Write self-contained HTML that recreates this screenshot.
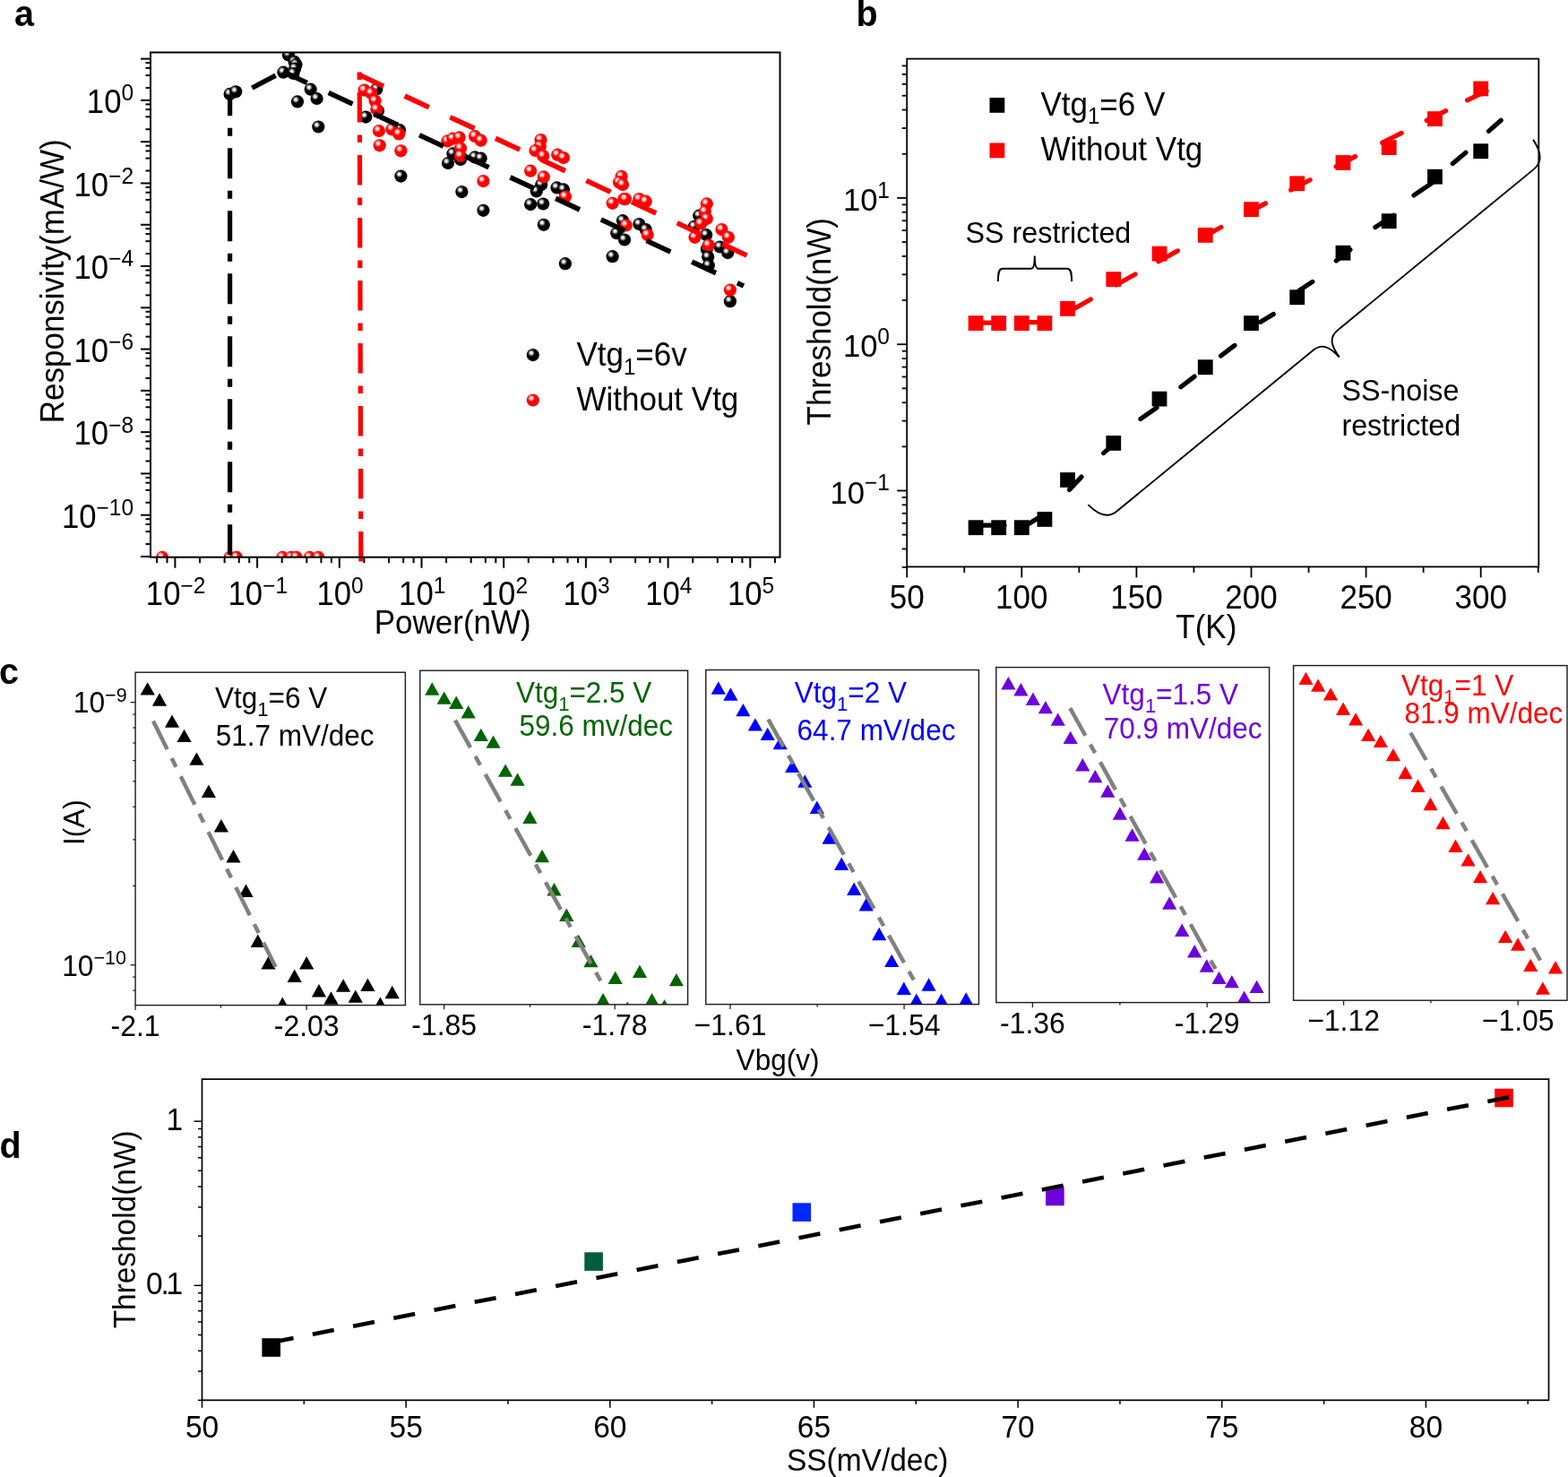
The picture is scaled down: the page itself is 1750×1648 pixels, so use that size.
<!DOCTYPE html>
<html><head><meta charset="utf-8"><title>Figure</title>
<style>html,body{margin:0;padding:0;background:#fff;}svg{display:block;}text{font-family:"Liberation Sans",Arial,Helvetica,sans-serif;}</style>
</head><body>
<svg width="1750" height="1648" viewBox="0 0 1750 1648">
<defs>
<radialGradient id="gb" cx="0.37" cy="0.34" r="0.62" fx="0.37" fy="0.34"><stop offset="0" stop-color="#fff"/><stop offset="0.12" stop-color="#f4f4f4"/><stop offset="0.45" stop-color="#000"/><stop offset="1" stop-color="#000"/></radialGradient>
<radialGradient id="gr" cx="0.37" cy="0.34" r="0.62" fx="0.37" fy="0.34"><stop offset="0" stop-color="#fff"/><stop offset="0.12" stop-color="#fff0f0"/><stop offset="0.45" stop-color="#f00"/><stop offset="1" stop-color="#f00"/></radialGradient>
<clipPath id="clipA"><rect x="168" y="58.5" width="702.5" height="563"/></clipPath>
<clipPath id="clipAb"><rect x="168" y="40" width="702.5" height="581.5"/></clipPath>
</defs>
<rect x="0" y="0" width="1750" height="1648" fill="#fff"/>
<text transform="translate(16,28.9) scale(1,1.04)" font-size="39.5" font-weight="bold">a</text>
<line x1="157" y1="620.98" x2="168" y2="620.98" stroke="#000" stroke-width="2"/>
<line x1="162.5" y1="607.05" x2="168" y2="607.05" stroke="#000" stroke-width="2"/>
<line x1="162.5" y1="593.12" x2="168" y2="593.12" stroke="#000" stroke-width="2"/>
<line x1="162.5" y1="584.97" x2="168" y2="584.97" stroke="#000" stroke-width="2"/>
<line x1="162.5" y1="579.18" x2="168" y2="579.18" stroke="#000" stroke-width="2"/>
<line x1="157" y1="574.7" x2="168" y2="574.7" stroke="#000" stroke-width="2"/>
<line x1="162.5" y1="560.77" x2="168" y2="560.77" stroke="#000" stroke-width="2"/>
<line x1="162.5" y1="546.84" x2="168" y2="546.84" stroke="#000" stroke-width="2"/>
<line x1="162.5" y1="538.69" x2="168" y2="538.69" stroke="#000" stroke-width="2"/>
<line x1="162.5" y1="532.9" x2="168" y2="532.9" stroke="#000" stroke-width="2"/>
<line x1="157" y1="528.42" x2="168" y2="528.42" stroke="#000" stroke-width="2"/>
<line x1="162.5" y1="514.49" x2="168" y2="514.49" stroke="#000" stroke-width="2"/>
<line x1="162.5" y1="500.56" x2="168" y2="500.56" stroke="#000" stroke-width="2"/>
<line x1="162.5" y1="492.41" x2="168" y2="492.41" stroke="#000" stroke-width="2"/>
<line x1="162.5" y1="486.62" x2="168" y2="486.62" stroke="#000" stroke-width="2"/>
<line x1="157" y1="482.14" x2="168" y2="482.14" stroke="#000" stroke-width="2"/>
<line x1="162.5" y1="468.21" x2="168" y2="468.21" stroke="#000" stroke-width="2"/>
<line x1="162.5" y1="454.28" x2="168" y2="454.28" stroke="#000" stroke-width="2"/>
<line x1="162.5" y1="446.13" x2="168" y2="446.13" stroke="#000" stroke-width="2"/>
<line x1="162.5" y1="440.34" x2="168" y2="440.34" stroke="#000" stroke-width="2"/>
<line x1="157" y1="435.86" x2="168" y2="435.86" stroke="#000" stroke-width="2"/>
<line x1="162.5" y1="421.93" x2="168" y2="421.93" stroke="#000" stroke-width="2"/>
<line x1="162.5" y1="408" x2="168" y2="408" stroke="#000" stroke-width="2"/>
<line x1="162.5" y1="399.85" x2="168" y2="399.85" stroke="#000" stroke-width="2"/>
<line x1="162.5" y1="394.06" x2="168" y2="394.06" stroke="#000" stroke-width="2"/>
<line x1="157" y1="389.58" x2="168" y2="389.58" stroke="#000" stroke-width="2"/>
<line x1="162.5" y1="375.65" x2="168" y2="375.65" stroke="#000" stroke-width="2"/>
<line x1="162.5" y1="361.72" x2="168" y2="361.72" stroke="#000" stroke-width="2"/>
<line x1="162.5" y1="353.57" x2="168" y2="353.57" stroke="#000" stroke-width="2"/>
<line x1="162.5" y1="347.78" x2="168" y2="347.78" stroke="#000" stroke-width="2"/>
<line x1="157" y1="343.3" x2="168" y2="343.3" stroke="#000" stroke-width="2"/>
<line x1="162.5" y1="329.37" x2="168" y2="329.37" stroke="#000" stroke-width="2"/>
<line x1="162.5" y1="315.44" x2="168" y2="315.44" stroke="#000" stroke-width="2"/>
<line x1="162.5" y1="307.29" x2="168" y2="307.29" stroke="#000" stroke-width="2"/>
<line x1="162.5" y1="301.5" x2="168" y2="301.5" stroke="#000" stroke-width="2"/>
<line x1="157" y1="297.02" x2="168" y2="297.02" stroke="#000" stroke-width="2"/>
<line x1="162.5" y1="283.09" x2="168" y2="283.09" stroke="#000" stroke-width="2"/>
<line x1="162.5" y1="269.16" x2="168" y2="269.16" stroke="#000" stroke-width="2"/>
<line x1="162.5" y1="261.01" x2="168" y2="261.01" stroke="#000" stroke-width="2"/>
<line x1="162.5" y1="255.22" x2="168" y2="255.22" stroke="#000" stroke-width="2"/>
<line x1="157" y1="250.74" x2="168" y2="250.74" stroke="#000" stroke-width="2"/>
<line x1="162.5" y1="236.81" x2="168" y2="236.81" stroke="#000" stroke-width="2"/>
<line x1="162.5" y1="222.88" x2="168" y2="222.88" stroke="#000" stroke-width="2"/>
<line x1="162.5" y1="214.73" x2="168" y2="214.73" stroke="#000" stroke-width="2"/>
<line x1="162.5" y1="208.94" x2="168" y2="208.94" stroke="#000" stroke-width="2"/>
<line x1="157" y1="204.46" x2="168" y2="204.46" stroke="#000" stroke-width="2"/>
<line x1="162.5" y1="190.53" x2="168" y2="190.53" stroke="#000" stroke-width="2"/>
<line x1="162.5" y1="176.6" x2="168" y2="176.6" stroke="#000" stroke-width="2"/>
<line x1="162.5" y1="168.45" x2="168" y2="168.45" stroke="#000" stroke-width="2"/>
<line x1="162.5" y1="162.66" x2="168" y2="162.66" stroke="#000" stroke-width="2"/>
<line x1="157" y1="158.18" x2="168" y2="158.18" stroke="#000" stroke-width="2"/>
<line x1="162.5" y1="144.25" x2="168" y2="144.25" stroke="#000" stroke-width="2"/>
<line x1="162.5" y1="130.32" x2="168" y2="130.32" stroke="#000" stroke-width="2"/>
<line x1="162.5" y1="122.17" x2="168" y2="122.17" stroke="#000" stroke-width="2"/>
<line x1="162.5" y1="116.38" x2="168" y2="116.38" stroke="#000" stroke-width="2"/>
<line x1="157" y1="111.9" x2="168" y2="111.9" stroke="#000" stroke-width="2"/>
<line x1="162.5" y1="97.97" x2="168" y2="97.97" stroke="#000" stroke-width="2"/>
<line x1="162.5" y1="84.04" x2="168" y2="84.04" stroke="#000" stroke-width="2"/>
<line x1="162.5" y1="75.89" x2="168" y2="75.89" stroke="#000" stroke-width="2"/>
<line x1="162.5" y1="70.1" x2="168" y2="70.1" stroke="#000" stroke-width="2"/>
<line x1="157" y1="65.62" x2="168" y2="65.62" stroke="#000" stroke-width="2"/>
<text transform="translate(149.1,126.1) scale(1,1.04)" font-size="34.7" text-anchor="end">10<tspan font-size="24.5" dy="-13.3">0</tspan></text>
<text transform="translate(149.1,218.66) scale(1,1.04)" font-size="34.7" text-anchor="end">10<tspan font-size="24.5" dy="-13.3">−2</tspan></text>
<text transform="translate(149.1,311.22) scale(1,1.04)" font-size="34.7" text-anchor="end">10<tspan font-size="24.5" dy="-13.3">−4</tspan></text>
<text transform="translate(149.1,403.78) scale(1,1.04)" font-size="34.7" text-anchor="end">10<tspan font-size="24.5" dy="-13.3">−6</tspan></text>
<text transform="translate(149.1,496.34) scale(1,1.04)" font-size="34.7" text-anchor="end">10<tspan font-size="24.5" dy="-13.3">−8</tspan></text>
<text transform="translate(149.1,588.9) scale(1,1.04)" font-size="34.7" text-anchor="end">10<tspan font-size="24.5" dy="-13.3">−10</tspan></text>
<line x1="175.06" y1="621.7" x2="175.06" y2="628.2" stroke="#000" stroke-width="2"/>
<line x1="186.51" y1="621.7" x2="186.51" y2="628.2" stroke="#000" stroke-width="2"/>
<line x1="195.4" y1="621.7" x2="195.4" y2="633.7" stroke="#000" stroke-width="2"/>
<line x1="223" y1="621.7" x2="223" y2="628.2" stroke="#000" stroke-width="2"/>
<line x1="250.61" y1="621.7" x2="250.61" y2="628.2" stroke="#000" stroke-width="2"/>
<line x1="266.76" y1="621.7" x2="266.76" y2="628.2" stroke="#000" stroke-width="2"/>
<line x1="278.21" y1="621.7" x2="278.21" y2="628.2" stroke="#000" stroke-width="2"/>
<line x1="287.1" y1="621.7" x2="287.1" y2="633.7" stroke="#000" stroke-width="2"/>
<line x1="314.7" y1="621.7" x2="314.7" y2="628.2" stroke="#000" stroke-width="2"/>
<line x1="342.31" y1="621.7" x2="342.31" y2="628.2" stroke="#000" stroke-width="2"/>
<line x1="358.46" y1="621.7" x2="358.46" y2="628.2" stroke="#000" stroke-width="2"/>
<line x1="369.91" y1="621.7" x2="369.91" y2="628.2" stroke="#000" stroke-width="2"/>
<line x1="378.8" y1="621.7" x2="378.8" y2="633.7" stroke="#000" stroke-width="2"/>
<line x1="406.4" y1="621.7" x2="406.4" y2="628.2" stroke="#000" stroke-width="2"/>
<line x1="434.01" y1="621.7" x2="434.01" y2="628.2" stroke="#000" stroke-width="2"/>
<line x1="450.16" y1="621.7" x2="450.16" y2="628.2" stroke="#000" stroke-width="2"/>
<line x1="461.61" y1="621.7" x2="461.61" y2="628.2" stroke="#000" stroke-width="2"/>
<line x1="470.5" y1="621.7" x2="470.5" y2="633.7" stroke="#000" stroke-width="2"/>
<line x1="498.1" y1="621.7" x2="498.1" y2="628.2" stroke="#000" stroke-width="2"/>
<line x1="525.71" y1="621.7" x2="525.71" y2="628.2" stroke="#000" stroke-width="2"/>
<line x1="541.86" y1="621.7" x2="541.86" y2="628.2" stroke="#000" stroke-width="2"/>
<line x1="553.31" y1="621.7" x2="553.31" y2="628.2" stroke="#000" stroke-width="2"/>
<line x1="562.2" y1="621.7" x2="562.2" y2="633.7" stroke="#000" stroke-width="2"/>
<line x1="589.8" y1="621.7" x2="589.8" y2="628.2" stroke="#000" stroke-width="2"/>
<line x1="617.41" y1="621.7" x2="617.41" y2="628.2" stroke="#000" stroke-width="2"/>
<line x1="633.56" y1="621.7" x2="633.56" y2="628.2" stroke="#000" stroke-width="2"/>
<line x1="645.01" y1="621.7" x2="645.01" y2="628.2" stroke="#000" stroke-width="2"/>
<line x1="653.9" y1="621.7" x2="653.9" y2="633.7" stroke="#000" stroke-width="2"/>
<line x1="681.5" y1="621.7" x2="681.5" y2="628.2" stroke="#000" stroke-width="2"/>
<line x1="709.11" y1="621.7" x2="709.11" y2="628.2" stroke="#000" stroke-width="2"/>
<line x1="725.26" y1="621.7" x2="725.26" y2="628.2" stroke="#000" stroke-width="2"/>
<line x1="736.71" y1="621.7" x2="736.71" y2="628.2" stroke="#000" stroke-width="2"/>
<line x1="745.6" y1="621.7" x2="745.6" y2="633.7" stroke="#000" stroke-width="2"/>
<line x1="773.2" y1="621.7" x2="773.2" y2="628.2" stroke="#000" stroke-width="2"/>
<line x1="800.81" y1="621.7" x2="800.81" y2="628.2" stroke="#000" stroke-width="2"/>
<line x1="816.96" y1="621.7" x2="816.96" y2="628.2" stroke="#000" stroke-width="2"/>
<line x1="828.41" y1="621.7" x2="828.41" y2="628.2" stroke="#000" stroke-width="2"/>
<line x1="837.3" y1="621.7" x2="837.3" y2="633.7" stroke="#000" stroke-width="2"/>
<line x1="864.9" y1="621.7" x2="864.9" y2="628.2" stroke="#000" stroke-width="2"/>
<text transform="translate(196.1,675) scale(1,1.04)" font-size="34.7" text-anchor="middle">10<tspan font-size="24.5" dy="-12.8">−2</tspan></text>
<text transform="translate(287.8,675) scale(1,1.04)" font-size="34.7" text-anchor="middle">10<tspan font-size="24.5" dy="-12.8">−1</tspan></text>
<text transform="translate(379.5,675) scale(1,1.04)" font-size="34.7" text-anchor="middle">10<tspan font-size="24.5" dy="-12.8">0</tspan></text>
<text transform="translate(471.2,675) scale(1,1.04)" font-size="34.7" text-anchor="middle">10<tspan font-size="24.5" dy="-12.8">1</tspan></text>
<text transform="translate(562.9,675) scale(1,1.04)" font-size="34.7" text-anchor="middle">10<tspan font-size="24.5" dy="-12.8">2</tspan></text>
<text transform="translate(654.6,675) scale(1,1.04)" font-size="34.7" text-anchor="middle">10<tspan font-size="24.5" dy="-12.8">3</tspan></text>
<text transform="translate(746.3,675) scale(1,1.04)" font-size="34.7" text-anchor="middle">10<tspan font-size="24.5" dy="-12.8">4</tspan></text>
<text transform="translate(838,675) scale(1,1.04)" font-size="34.7" text-anchor="middle">10<tspan font-size="24.5" dy="-12.8">5</tspan></text>
<text transform="translate(505.2,707.3) scale(1,1.04)" font-size="35" text-anchor="middle">Power(nW)</text>
<text transform="translate(71.4,313.8) rotate(-90) scale(1,1.04)" font-size="35" text-anchor="middle">Responsivity(mA/W)</text>
<g clip-path="url(#clipA)">
<circle cx="256.6" cy="104.9" r="7.1" fill="url(#gb)"/>
<circle cx="263.2" cy="102.3" r="7.1" fill="url(#gb)"/>
<circle cx="316.3" cy="80.7" r="7.1" fill="url(#gb)"/>
<circle cx="322" cy="61.5" r="7.1" fill="url(#gb)"/>
<circle cx="328.6" cy="68.9" r="7.1" fill="url(#gb)"/>
<circle cx="330.5" cy="72" r="7.1" fill="url(#gb)"/>
<circle cx="329.2" cy="76.5" r="7.1" fill="url(#gb)"/>
<circle cx="327.5" cy="82" r="7.1" fill="url(#gb)"/>
<circle cx="346.7" cy="99.7" r="7.1" fill="url(#gb)"/>
<circle cx="353.6" cy="110" r="7.1" fill="url(#gb)"/>
<circle cx="332" cy="113.4" r="7.1" fill="url(#gb)"/>
<circle cx="355.3" cy="141.5" r="7.1" fill="url(#gb)"/>
<circle cx="420.3" cy="99.5" r="7.1" fill="url(#gb)"/>
<circle cx="408.3" cy="130.6" r="7.1" fill="url(#gb)"/>
<circle cx="422" cy="123.7" r="7.1" fill="url(#gb)"/>
<circle cx="446" cy="145" r="7.1" fill="url(#gb)"/>
<circle cx="447.4" cy="196.6" r="7.1" fill="url(#gb)"/>
<circle cx="500" cy="182" r="7.1" fill="url(#gb)"/>
<circle cx="505.4" cy="171.4" r="7.1" fill="url(#gb)"/>
<circle cx="514" cy="178" r="7.1" fill="url(#gb)"/>
<circle cx="530" cy="175.4" r="7.1" fill="url(#gb)"/>
<circle cx="536.7" cy="176.7" r="7.1" fill="url(#gb)"/>
<circle cx="515.4" cy="214.1" r="7.1" fill="url(#gb)"/>
<circle cx="539.4" cy="234.8" r="7.1" fill="url(#gb)"/>
<circle cx="604.2" cy="206.1" r="7.1" fill="url(#gb)"/>
<circle cx="598.8" cy="213.4" r="7.1" fill="url(#gb)"/>
<circle cx="621.5" cy="209.4" r="7.1" fill="url(#gb)"/>
<circle cx="628.9" cy="211.4" r="7.1" fill="url(#gb)"/>
<circle cx="592.1" cy="228.1" r="7.1" fill="url(#gb)"/>
<circle cx="606.2" cy="227.5" r="7.1" fill="url(#gb)"/>
<circle cx="606.8" cy="250.8" r="7.1" fill="url(#gb)"/>
<circle cx="630.9" cy="294.2" r="7.1" fill="url(#gb)"/>
<circle cx="695" cy="246.2" r="7.1" fill="url(#gb)"/>
<circle cx="688.3" cy="260.2" r="7.1" fill="url(#gb)"/>
<circle cx="697" cy="267.5" r="7.1" fill="url(#gb)"/>
<circle cx="683.6" cy="286.2" r="7.1" fill="url(#gb)"/>
<circle cx="713.4" cy="250.1" r="7.1" fill="url(#gb)"/>
<circle cx="720.7" cy="256.1" r="7.1" fill="url(#gb)"/>
<circle cx="780.2" cy="240.7" r="7.1" fill="url(#gb)"/>
<circle cx="774.8" cy="252.8" r="7.1" fill="url(#gb)"/>
<circle cx="788.2" cy="262.1" r="7.1" fill="url(#gb)"/>
<circle cx="788.8" cy="278.1" r="7.1" fill="url(#gb)"/>
<circle cx="790.2" cy="286.8" r="7.1" fill="url(#gb)"/>
<circle cx="790.8" cy="296.2" r="7.1" fill="url(#gb)"/>
<circle cx="803.5" cy="275.5" r="7.1" fill="url(#gb)"/>
<circle cx="812.2" cy="282.1" r="7.1" fill="url(#gb)"/>
<circle cx="814.9" cy="336.2" r="7.1" fill="url(#gb)"/>
</g>
<g clip-path="url(#clipA)">
<circle cx="406.6" cy="100.6" r="7.1" fill="url(#gr)"/>
<circle cx="414.3" cy="104" r="7.1" fill="url(#gr)"/>
<circle cx="418.6" cy="112.6" r="7.1" fill="url(#gr)"/>
<circle cx="420.3" cy="122" r="7.1" fill="url(#gr)"/>
<circle cx="422.9" cy="146" r="7.1" fill="url(#gr)"/>
<circle cx="423.7" cy="162.3" r="7.1" fill="url(#gr)"/>
<circle cx="437.4" cy="144.3" r="7.1" fill="url(#gr)"/>
<circle cx="445.2" cy="149.4" r="7.1" fill="url(#gr)"/>
<circle cx="447.4" cy="168.3" r="7.1" fill="url(#gr)"/>
<circle cx="499.4" cy="157.4" r="7.1" fill="url(#gr)"/>
<circle cx="505.4" cy="154.7" r="7.1" fill="url(#gr)"/>
<circle cx="512.7" cy="153.4" r="7.1" fill="url(#gr)"/>
<circle cx="514" cy="165.4" r="7.1" fill="url(#gr)"/>
<circle cx="514" cy="174" r="7.1" fill="url(#gr)"/>
<circle cx="530" cy="152" r="7.1" fill="url(#gr)"/>
<circle cx="536.7" cy="156.7" r="7.1" fill="url(#gr)"/>
<circle cx="539.4" cy="202.1" r="7.1" fill="url(#gr)"/>
<circle cx="603.5" cy="156" r="7.1" fill="url(#gr)"/>
<circle cx="602.8" cy="163.4" r="7.1" fill="url(#gr)"/>
<circle cx="597.5" cy="168" r="7.1" fill="url(#gr)"/>
<circle cx="606.2" cy="174" r="7.1" fill="url(#gr)"/>
<circle cx="622.2" cy="172.7" r="7.1" fill="url(#gr)"/>
<circle cx="628.9" cy="176" r="7.1" fill="url(#gr)"/>
<circle cx="592.1" cy="190.7" r="7.1" fill="url(#gr)"/>
<circle cx="606.8" cy="197.4" r="7.1" fill="url(#gr)"/>
<circle cx="630.9" cy="219.5" r="7.1" fill="url(#gr)"/>
<circle cx="693.6" cy="196.8" r="7.1" fill="url(#gr)"/>
<circle cx="691" cy="203.4" r="7.1" fill="url(#gr)"/>
<circle cx="695" cy="206" r="7.1" fill="url(#gr)"/>
<circle cx="696.3" cy="222.1" r="7.1" fill="url(#gr)"/>
<circle cx="683.6" cy="226.8" r="7.1" fill="url(#gr)"/>
<circle cx="698" cy="222.1" r="7.1" fill="url(#gr)"/>
<circle cx="713.4" cy="222.1" r="7.1" fill="url(#gr)"/>
<circle cx="720.7" cy="224.7" r="7.1" fill="url(#gr)"/>
<circle cx="698.7" cy="251.4" r="7.1" fill="url(#gr)"/>
<circle cx="722.7" cy="262.1" r="7.1" fill="url(#gr)"/>
<circle cx="788.8" cy="227.4" r="7.1" fill="url(#gr)"/>
<circle cx="786.8" cy="236.1" r="7.1" fill="url(#gr)"/>
<circle cx="788.8" cy="244.1" r="7.1" fill="url(#gr)"/>
<circle cx="782.2" cy="249.4" r="7.1" fill="url(#gr)"/>
<circle cx="775.5" cy="264.8" r="7.1" fill="url(#gr)"/>
<circle cx="805.5" cy="256.1" r="7.1" fill="url(#gr)"/>
<circle cx="812.9" cy="264.8" r="7.1" fill="url(#gr)"/>
<circle cx="790.8" cy="273.5" r="7.1" fill="url(#gr)"/>
<circle cx="814.9" cy="323.5" r="7.1" fill="url(#gr)"/>
<circle cx="181.1" cy="621.9" r="7.1" fill="url(#gr)"/>
<circle cx="256.6" cy="621.9" r="7.1" fill="url(#gr)"/>
<circle cx="264" cy="621.9" r="7.1" fill="url(#gr)"/>
<circle cx="315.3" cy="621.9" r="7.1" fill="url(#gr)"/>
<circle cx="324.9" cy="621.9" r="7.1" fill="url(#gr)"/>
<circle cx="330.8" cy="621.9" r="7.1" fill="url(#gr)"/>
<circle cx="345.7" cy="621.9" r="7.1" fill="url(#gr)"/>
<circle cx="355.4" cy="621.9" r="7.1" fill="url(#gr)"/>
</g>
<path d="M256.6 108.3 L256.6 619.3" stroke="#000" stroke-width="5.2" fill="none" stroke-dasharray="34 13.5 9 13.5" stroke-dashoffset="13.1"/>
<path d="M401.2 80 L402.9 626.4" stroke="#f00" stroke-width="5.2" fill="none" stroke-dasharray="33.5 14 8.5 14" stroke-dashoffset="46.9"/>
<line x1="281.25" y1="98.14" x2="307.66" y2="84.35" stroke="#000" stroke-width="5.6"/>
<line x1="316" y1="80" x2="342.84" y2="92.48" stroke="#000" stroke-width="5.6"/>
<line x1="366.69" y1="103.57" x2="393.53" y2="116.05" stroke="#000" stroke-width="5.6"/>
<line x1="417.38" y1="127.14" x2="444.22" y2="139.62" stroke="#000" stroke-width="5.6"/>
<line x1="468.07" y1="150.71" x2="494.91" y2="163.19" stroke="#000" stroke-width="5.6"/>
<line x1="518.75" y1="174.28" x2="545.59" y2="186.76" stroke="#000" stroke-width="5.6"/>
<line x1="569.44" y1="197.85" x2="596.28" y2="210.33" stroke="#000" stroke-width="5.6"/>
<line x1="620.13" y1="221.41" x2="646.97" y2="233.89" stroke="#000" stroke-width="5.6"/>
<line x1="670.82" y1="244.98" x2="697.66" y2="257.46" stroke="#000" stroke-width="5.6"/>
<line x1="721.51" y1="268.55" x2="748.35" y2="281.03" stroke="#000" stroke-width="5.6"/>
<line x1="772.2" y1="292.12" x2="799.04" y2="304.6" stroke="#000" stroke-width="5.6"/>
<line x1="822.88" y1="315.69" x2="830" y2="319" stroke="#000" stroke-width="5.6"/>
<line x1="401" y1="83.5" x2="428.19" y2="96.17" stroke="#f00" stroke-width="5.6"/>
<line x1="451.67" y1="107.11" x2="478.86" y2="119.79" stroke="#f00" stroke-width="5.6"/>
<line x1="502.34" y1="130.73" x2="529.53" y2="143.4" stroke="#f00" stroke-width="5.6"/>
<line x1="553" y1="154.34" x2="580.19" y2="167.01" stroke="#f00" stroke-width="5.6"/>
<line x1="603.67" y1="177.95" x2="630.86" y2="190.63" stroke="#f00" stroke-width="5.6"/>
<line x1="654.34" y1="201.57" x2="681.53" y2="214.24" stroke="#f00" stroke-width="5.6"/>
<line x1="705.01" y1="225.18" x2="732.2" y2="237.85" stroke="#f00" stroke-width="5.6"/>
<line x1="755.67" y1="248.8" x2="782.87" y2="261.47" stroke="#f00" stroke-width="5.6"/>
<line x1="806.34" y1="272.41" x2="833.53" y2="285.08" stroke="#f00" stroke-width="5.6"/>
<rect x="168.0" y="58.5" width="702.5" height="563.2" fill="none" stroke="#000" stroke-width="2"/>
<circle cx="594.8" cy="396.1" r="7.1" fill="url(#gb)"/>
<circle cx="594.8" cy="446.5" r="7.1" fill="url(#gr)"/>
<text transform="translate(643.5,408.2) scale(1,1.04)" font-size="35">Vtg<tspan font-size="24" dy="9.2">1</tspan><tspan dy="-9.2">=6v</tspan></text>
<text transform="translate(643.5,458.4) scale(1,1.04)" font-size="35">Without Vtg</text>
<text transform="translate(955.5,28.9) scale(1,1.04)" font-size="39.5" font-weight="bold">b</text>
<line x1="1006.7" y1="632.89" x2="1012.2" y2="632.89" stroke="#000" stroke-width="1.8"/>
<line x1="1006.7" y1="612.48" x2="1012.2" y2="612.48" stroke="#000" stroke-width="1.8"/>
<line x1="1006.7" y1="596.66" x2="1012.2" y2="596.66" stroke="#000" stroke-width="1.8"/>
<line x1="1006.7" y1="583.73" x2="1012.2" y2="583.73" stroke="#000" stroke-width="1.8"/>
<line x1="1006.7" y1="572.8" x2="1012.2" y2="572.8" stroke="#000" stroke-width="1.8"/>
<line x1="1006.7" y1="563.33" x2="1012.2" y2="563.33" stroke="#000" stroke-width="1.8"/>
<line x1="1006.7" y1="554.97" x2="1012.2" y2="554.97" stroke="#000" stroke-width="1.8"/>
<line x1="1001.2" y1="547.5" x2="1012.2" y2="547.5" stroke="#000" stroke-width="1.8"/>
<line x1="1006.7" y1="498.34" x2="1012.2" y2="498.34" stroke="#000" stroke-width="1.8"/>
<line x1="1006.7" y1="469.59" x2="1012.2" y2="469.59" stroke="#000" stroke-width="1.8"/>
<line x1="1006.7" y1="449.18" x2="1012.2" y2="449.18" stroke="#000" stroke-width="1.8"/>
<line x1="1006.7" y1="433.36" x2="1012.2" y2="433.36" stroke="#000" stroke-width="1.8"/>
<line x1="1006.7" y1="420.43" x2="1012.2" y2="420.43" stroke="#000" stroke-width="1.8"/>
<line x1="1006.7" y1="409.5" x2="1012.2" y2="409.5" stroke="#000" stroke-width="1.8"/>
<line x1="1006.7" y1="400.03" x2="1012.2" y2="400.03" stroke="#000" stroke-width="1.8"/>
<line x1="1006.7" y1="391.67" x2="1012.2" y2="391.67" stroke="#000" stroke-width="1.8"/>
<line x1="1001.2" y1="384.2" x2="1012.2" y2="384.2" stroke="#000" stroke-width="1.8"/>
<line x1="1006.7" y1="335.04" x2="1012.2" y2="335.04" stroke="#000" stroke-width="1.8"/>
<line x1="1006.7" y1="306.29" x2="1012.2" y2="306.29" stroke="#000" stroke-width="1.8"/>
<line x1="1006.7" y1="285.88" x2="1012.2" y2="285.88" stroke="#000" stroke-width="1.8"/>
<line x1="1006.7" y1="270.06" x2="1012.2" y2="270.06" stroke="#000" stroke-width="1.8"/>
<line x1="1006.7" y1="257.13" x2="1012.2" y2="257.13" stroke="#000" stroke-width="1.8"/>
<line x1="1006.7" y1="246.2" x2="1012.2" y2="246.2" stroke="#000" stroke-width="1.8"/>
<line x1="1006.7" y1="236.73" x2="1012.2" y2="236.73" stroke="#000" stroke-width="1.8"/>
<line x1="1006.7" y1="228.37" x2="1012.2" y2="228.37" stroke="#000" stroke-width="1.8"/>
<line x1="1001.2" y1="220.9" x2="1012.2" y2="220.9" stroke="#000" stroke-width="1.8"/>
<line x1="1006.7" y1="171.74" x2="1012.2" y2="171.74" stroke="#000" stroke-width="1.8"/>
<line x1="1006.7" y1="142.99" x2="1012.2" y2="142.99" stroke="#000" stroke-width="1.8"/>
<line x1="1006.7" y1="122.58" x2="1012.2" y2="122.58" stroke="#000" stroke-width="1.8"/>
<line x1="1006.7" y1="106.76" x2="1012.2" y2="106.76" stroke="#000" stroke-width="1.8"/>
<line x1="1006.7" y1="93.83" x2="1012.2" y2="93.83" stroke="#000" stroke-width="1.8"/>
<line x1="1006.7" y1="82.9" x2="1012.2" y2="82.9" stroke="#000" stroke-width="1.8"/>
<line x1="1006.7" y1="73.43" x2="1012.2" y2="73.43" stroke="#000" stroke-width="1.8"/>
<text transform="translate(993,561.5) scale(1,1.04)" font-size="34.6" text-anchor="end">10<tspan font-size="24.5" dy="-13.8">−1</tspan></text>
<text transform="translate(993,398.2) scale(1,1.04)" font-size="34.6" text-anchor="end">10<tspan font-size="24.5" dy="-13.8">0</tspan></text>
<text transform="translate(993,234.9) scale(1,1.04)" font-size="34.6" text-anchor="end">10<tspan font-size="24.5" dy="-13.8">1</tspan></text>
<line x1="1012.2" y1="632.4" x2="1012.2" y2="644.4" stroke="#000" stroke-width="1.8"/>
<text transform="translate(1012.2,679.3) scale(1,1.04)" font-size="35" text-anchor="middle">50</text>
<line x1="1076.25" y1="632.4" x2="1076.25" y2="638.9" stroke="#000" stroke-width="1.8"/>
<line x1="1140.3" y1="632.4" x2="1140.3" y2="644.4" stroke="#000" stroke-width="1.8"/>
<text transform="translate(1140.3,679.3) scale(1,1.04)" font-size="35" text-anchor="middle">100</text>
<line x1="1204.35" y1="632.4" x2="1204.35" y2="638.9" stroke="#000" stroke-width="1.8"/>
<line x1="1268.4" y1="632.4" x2="1268.4" y2="644.4" stroke="#000" stroke-width="1.8"/>
<text transform="translate(1268.4,679.3) scale(1,1.04)" font-size="35" text-anchor="middle">150</text>
<line x1="1332.45" y1="632.4" x2="1332.45" y2="638.9" stroke="#000" stroke-width="1.8"/>
<line x1="1396.5" y1="632.4" x2="1396.5" y2="644.4" stroke="#000" stroke-width="1.8"/>
<text transform="translate(1396.5,679.3) scale(1,1.04)" font-size="35" text-anchor="middle">200</text>
<line x1="1460.55" y1="632.4" x2="1460.55" y2="638.9" stroke="#000" stroke-width="1.8"/>
<line x1="1524.6" y1="632.4" x2="1524.6" y2="644.4" stroke="#000" stroke-width="1.8"/>
<text transform="translate(1524.6,679.3) scale(1,1.04)" font-size="35" text-anchor="middle">250</text>
<line x1="1588.65" y1="632.4" x2="1588.65" y2="638.9" stroke="#000" stroke-width="1.8"/>
<line x1="1652.7" y1="632.4" x2="1652.7" y2="644.4" stroke="#000" stroke-width="1.8"/>
<text transform="translate(1652.7,679.3) scale(1,1.04)" font-size="35" text-anchor="middle">300</text>
<line x1="1716.75" y1="632.4" x2="1716.75" y2="638.9" stroke="#000" stroke-width="1.8"/>
<text transform="translate(1346.3,712) scale(1,1.04)" font-size="35" text-anchor="middle">T(K)</text>
<text transform="translate(927,358.8) rotate(-90) scale(1,1.04)" font-size="35" text-anchor="middle">Threshold(nW)</text>
<line x1="1094" y1="360.2" x2="1120" y2="360.2" stroke="#f00" stroke-width="5.2" stroke-linecap="round"/>
<line x1="1146" y1="359.6" x2="1171.5" y2="359.6" stroke="#f00" stroke-width="5.2" stroke-linecap="round"/>
<line x1="1195.8" y1="346.22" x2="1217.3" y2="334" stroke="#f00" stroke-width="5.2" stroke-linecap="round"/>
<line x1="1245.5" y1="318.1" x2="1267" y2="306.07" stroke="#f00" stroke-width="5.2" stroke-linecap="round"/>
<line x1="1292.9" y1="291.7" x2="1314.4" y2="279.86" stroke="#f00" stroke-width="5.2" stroke-linecap="round"/>
<line x1="1341.4" y1="265.1" x2="1362.9" y2="253.45" stroke="#f00" stroke-width="5.2" stroke-linecap="round"/>
<line x1="1391" y1="238.35" x2="1412.5" y2="226.88" stroke="#f00" stroke-width="5.2" stroke-linecap="round"/>
<line x1="1440.6" y1="212.03" x2="1462.1" y2="200.76" stroke="#f00" stroke-width="5.2" stroke-linecap="round"/>
<line x1="1491.1" y1="185.7" x2="1512.6" y2="174.62" stroke="#f00" stroke-width="5.2" stroke-linecap="round"/>
<line x1="1542.7" y1="159.26" x2="1564.2" y2="148.39" stroke="#f00" stroke-width="5.2" stroke-linecap="round"/>
<line x1="1592.2" y1="134.36" x2="1613.7" y2="123.68" stroke="#f00" stroke-width="5.2" stroke-linecap="round"/>
<line x1="1637.6" y1="111.9" x2="1659.1" y2="101.4" stroke="#f00" stroke-width="5.2" stroke-linecap="round"/>
<line x1="1095" y1="586.2" x2="1121" y2="586.2" stroke="#000" stroke-width="5.2" stroke-linecap="round"/>
<line x1="1146" y1="585.8" x2="1162" y2="576" stroke="#000" stroke-width="5.2" stroke-linecap="round"/>
<line x1="1193.5" y1="546.4" x2="1207" y2="532.1" stroke="#000" stroke-width="5.2" stroke-linecap="round"/>
<line x1="1231.6" y1="505.6" x2="1247" y2="492" stroke="#000" stroke-width="5.2" stroke-linecap="round"/>
<line x1="1273" y1="467.4" x2="1291" y2="454.8" stroke="#000" stroke-width="5.2" stroke-linecap="round"/>
<line x1="1317.9" y1="431.8" x2="1333.1" y2="420.1" stroke="#000" stroke-width="5.2" stroke-linecap="round"/>
<line x1="1362.6" y1="397" x2="1378" y2="385.4" stroke="#000" stroke-width="5.2" stroke-linecap="round"/>
<line x1="1406.8" y1="359.3" x2="1421.3" y2="350.6" stroke="#000" stroke-width="5.2" stroke-linecap="round"/>
<line x1="1450" y1="324.2" x2="1464.8" y2="314.4" stroke="#000" stroke-width="5.2" stroke-linecap="round"/>
<line x1="1491.3" y1="291" x2="1506.9" y2="278.6" stroke="#000" stroke-width="5.2" stroke-linecap="round"/>
<line x1="1534.8" y1="253.6" x2="1555.3" y2="240.3" stroke="#000" stroke-width="5.2" stroke-linecap="round"/>
<line x1="1578" y1="217.9" x2="1599.8" y2="203.1" stroke="#000" stroke-width="5.2" stroke-linecap="round"/>
<line x1="1621.3" y1="182.6" x2="1635.9" y2="170.3" stroke="#000" stroke-width="5.2" stroke-linecap="round"/>
<line x1="1661.5" y1="146.4" x2="1675.2" y2="134.3" stroke="#000" stroke-width="5.2" stroke-linecap="round"/>
<rect x="1080.66" y="352.2" width="16.8" height="16.8" fill="#f00"/>
<rect x="1106.28" y="352.2" width="16.8" height="16.8" fill="#f00"/>
<rect x="1131.9" y="352.2" width="16.8" height="16.8" fill="#f00"/>
<rect x="1157.52" y="352.2" width="16.8" height="16.8" fill="#f00"/>
<rect x="1183.14" y="336" width="16.8" height="16.8" fill="#f00"/>
<rect x="1234.38" y="303.2" width="16.8" height="16.8" fill="#f00"/>
<rect x="1285.62" y="274.7" width="16.8" height="16.8" fill="#f00"/>
<rect x="1336.86" y="254" width="16.8" height="16.8" fill="#f00"/>
<rect x="1388.1" y="225.3" width="16.8" height="16.8" fill="#f00"/>
<rect x="1439.34" y="196.4" width="16.8" height="16.8" fill="#f00"/>
<rect x="1490.58" y="173.1" width="16.8" height="16.8" fill="#f00"/>
<rect x="1541.82" y="156.2" width="16.8" height="16.8" fill="#f00"/>
<rect x="1593.06" y="124.2" width="16.8" height="16.8" fill="#f00"/>
<rect x="1644.3" y="90.6" width="16.8" height="16.8" fill="#f00"/>
<rect x="1080.66" y="580.3" width="16.8" height="16.8" fill="#000"/>
<rect x="1106.28" y="580.3" width="16.8" height="16.8" fill="#000"/>
<rect x="1131.9" y="580.3" width="16.8" height="16.8" fill="#000"/>
<rect x="1157.52" y="571" width="16.8" height="16.8" fill="#000"/>
<rect x="1183.14" y="527.1" width="16.8" height="16.8" fill="#000"/>
<rect x="1234.38" y="486" width="16.8" height="16.8" fill="#000"/>
<rect x="1285.62" y="436.7" width="16.8" height="16.8" fill="#000"/>
<rect x="1336.86" y="401.3" width="16.8" height="16.8" fill="#000"/>
<rect x="1388.1" y="352.2" width="16.8" height="16.8" fill="#000"/>
<rect x="1439.34" y="323.3" width="16.8" height="16.8" fill="#000"/>
<rect x="1490.58" y="273.8" width="16.8" height="16.8" fill="#000"/>
<rect x="1541.82" y="238.3" width="16.8" height="16.8" fill="#000"/>
<rect x="1593.06" y="188.8" width="16.8" height="16.8" fill="#000"/>
<rect x="1644.3" y="160.3" width="16.8" height="16.8" fill="#000"/>
<path d="M1113.9 314 C1113.9 305 1114.6 300 1118.5 299.7 L1150.8 299.7 C1153.6 299.7 1154.8 295 1154.8 285.4 C1154.8 295 1156.0 299.7 1158.8 299.7 L1191.5 299.7 C1195.4 300 1196.1 305 1196.1 314" fill="none" stroke="#000" stroke-width="1.9"/>
<path d="M0 0 C1.5 16 8 26 20 26 L303.15 26 C315.15 26 320.15 33 321.15 50.6 C322.15 33 327.15 26 339.15 26 L622.3 26 C634.3 26 640.8 16 642.3 0" fill="none" stroke="#000" stroke-width="1.9" transform="translate(1214.4,563.1) rotate(-39.35)"/>
<text transform="translate(1077.5,271.3) scale(1,1.04)" font-size="32.3">SS restricted</text>
<text transform="translate(1497.4,447.1) scale(1,1.04)" font-size="32.3">SS-noise</text>
<text transform="translate(1497.4,485.6) scale(1,1.04)" font-size="32.3">restricted</text>
<rect x="1012.2" y="65.6" width="705.1" height="566.8" fill="none" stroke="#000" stroke-width="1.8"/>
<rect x="1104.5" y="109" width="16.8" height="16.8" fill="#000"/>
<rect x="1104.5" y="159.5" width="16.8" height="16.8" fill="#f00"/>
<text transform="translate(1161.5,128.9) scale(1,1.04)" font-size="35">Vtg<tspan font-size="24" dy="9.2">1</tspan><tspan dy="-9.2">=6 V</tspan></text>
<text transform="translate(1161.5,179.4) scale(1,1.04)" font-size="35">Without Vtg</text>
<text transform="translate(-1,763) scale(1,1.04)" font-size="39.5" font-weight="bold">c</text>
<line x1="148.3" y1="1105.1" x2="151.1" y2="1105.1" stroke="#222" stroke-width="1.3"/>
<line x1="148.3" y1="1090.11" x2="151.1" y2="1090.11" stroke="#222" stroke-width="1.3"/>
<line x1="145.6" y1="1076.7" x2="151.1" y2="1076.7" stroke="#222" stroke-width="1.3"/>
<line x1="148.3" y1="988.47" x2="151.1" y2="988.47" stroke="#222" stroke-width="1.3"/>
<line x1="148.3" y1="936.86" x2="151.1" y2="936.86" stroke="#222" stroke-width="1.3"/>
<line x1="148.3" y1="900.24" x2="151.1" y2="900.24" stroke="#222" stroke-width="1.3"/>
<line x1="148.3" y1="871.83" x2="151.1" y2="871.83" stroke="#222" stroke-width="1.3"/>
<line x1="148.3" y1="848.62" x2="151.1" y2="848.62" stroke="#222" stroke-width="1.3"/>
<line x1="148.3" y1="829" x2="151.1" y2="829" stroke="#222" stroke-width="1.3"/>
<line x1="148.3" y1="812" x2="151.1" y2="812" stroke="#222" stroke-width="1.3"/>
<line x1="148.3" y1="797.01" x2="151.1" y2="797.01" stroke="#222" stroke-width="1.3"/>
<line x1="145.6" y1="783.6" x2="151.1" y2="783.6" stroke="#222" stroke-width="1.3"/>
<text transform="translate(141.6,795.4) scale(1,1.04)" font-size="31.8" text-anchor="end">10<tspan font-size="21.5" dy="-12">−9</tspan></text>
<text transform="translate(141,1088.5) scale(1,1.04)" font-size="31.8" text-anchor="end">10<tspan font-size="21.5" dy="-12">−10</tspan></text>
<text transform="translate(93.6,917.7) rotate(-90) scale(1,1.04)" font-size="31.5" text-anchor="middle">I(A)</text>
<text transform="translate(868,1194.1) scale(1,1.04)" font-size="31.5" text-anchor="middle">Vbg(v)</text>
<clipPath id="clipC0"><rect x="151.1" y="750.2" width="301.3" height="371.4"/></clipPath>
<g clip-path="url(#clipC0)">
<path d="M164.7 761.2L172.8 775.6L156.6 775.6ZM178 773.3L186.1 787.7L169.9 787.7ZM192 797.4L200.1 811.8L183.9 811.8ZM205.6 813.7L213.7 828.1L197.5 828.1ZM219.4 839.4L227.5 853.8L211.3 853.8ZM232.9 875.6L241 890L224.8 890ZM246.9 914.1L255 928.5L238.8 928.5ZM260.5 948L268.6 962.4L252.4 962.4ZM274.5 986.5L282.6 1000.9L266.4 1000.9ZM287.8 1042.6L295.9 1057L279.7 1057ZM299.5 1067.1L307.6 1081.5L291.4 1081.5ZM315.3 1112.6L323.4 1127L307.2 1127ZM328.7 1081.6L336.8 1096L320.6 1096ZM342.2 1067.1L350.3 1081.5L334.1 1081.5ZM356 1098.1L364.1 1112.5L347.9 1112.5ZM369.5 1106.3L377.6 1120.7L361.4 1120.7ZM383.1 1092.3L391.2 1106.7L375 1106.7ZM396.8 1104.4L404.9 1118.8L388.7 1118.8ZM410.4 1091.6L418.5 1106L402.3 1106ZM424.4 1112.6L432.5 1127L416.3 1127ZM437.7 1099.8L445.8 1114.2L429.6 1114.2Z" fill="#000"/>
<line x1="171" y1="804.6" x2="186.6" y2="835.93" stroke="#808080" stroke-width="4.5"/>
<line x1="191.59" y1="845.96" x2="196.49" y2="855.81" stroke="#808080" stroke-width="4.5"/>
<line x1="201.75" y1="866.37" x2="217.35" y2="897.7" stroke="#808080" stroke-width="4.5"/>
<line x1="222.34" y1="907.73" x2="227.24" y2="917.58" stroke="#808080" stroke-width="4.5"/>
<line x1="232.5" y1="928.14" x2="248.1" y2="959.47" stroke="#808080" stroke-width="4.5"/>
<line x1="253.09" y1="969.5" x2="257.99" y2="979.34" stroke="#808080" stroke-width="4.5"/>
<line x1="263.25" y1="989.91" x2="278.85" y2="1021.24" stroke="#808080" stroke-width="4.5"/>
<line x1="283.84" y1="1031.27" x2="288.74" y2="1041.11" stroke="#808080" stroke-width="4.5"/>
<line x1="294" y1="1051.68" x2="307.6" y2="1079" stroke="#808080" stroke-width="4.5"/>
</g>
<rect x="151.1" y="750.2" width="301.3" height="371.4" fill="none" stroke="#1a1a1a" stroke-width="1.4"/>
<line x1="151.1" y1="1121.6" x2="151.1" y2="1127.1" stroke="#222" stroke-width="1.3"/>
<line x1="246.5" y1="1121.6" x2="246.5" y2="1124.6" stroke="#222" stroke-width="1.3"/>
<line x1="342.2" y1="1121.6" x2="342.2" y2="1127.1" stroke="#222" stroke-width="1.3"/>
<text transform="translate(151.1,1155.6) scale(1,1.04)" font-size="32" text-anchor="middle">-2.1</text>
<text transform="translate(342.2,1155.6) scale(1,1.04)" font-size="32" text-anchor="middle">-2.03</text>
<text transform="translate(240,789.8) scale(1,1.04)" font-size="31.5">Vtg<tspan font-size="22" dy="9">1</tspan><tspan dy="-9">=6 V</tspan></text>
<text transform="translate(240.8,831.9) scale(1,1.04)" font-size="31.5">51.7 mV/dec</text>
<clipPath id="clipC1"><rect x="468.8" y="748.2" width="298.8" height="372.6"/></clipPath>
<g clip-path="url(#clipC1)">
<path d="M482.3 761.3L490.4 775.7L474.2 775.7ZM495.7 771.4L503.8 785.8L487.6 785.8ZM509.2 776.5L517.3 790.9L501.1 790.9ZM522.7 787L530.8 801.4L514.6 801.4ZM536.8 812.7L544.9 827.1L528.7 827.1ZM550.5 820.4L558.6 834.8L542.4 834.8ZM564.1 852.4L572.2 866.8L556 866.8ZM577.6 862.4L585.7 876.8L569.5 876.8ZM591.4 904.5L599.5 918.9L583.3 918.9ZM605 947.8L613.1 962.2L596.9 962.2ZM618.5 985L626.6 999.4L610.4 999.4ZM632.3 1013.5L640.4 1027.9L624.2 1027.9ZM645.8 1042.7L653.9 1057.1L637.7 1057.1ZM659.4 1064.9L667.5 1079.3L651.3 1079.3ZM673.1 1108.1L681.2 1122.5L665 1122.5ZM686.7 1083.6L694.8 1098L678.6 1098ZM700.2 1117.5L708.3 1131.9L692.1 1131.9ZM714 1076.6L722.1 1091L705.9 1091ZM727.6 1108.1L735.7 1122.5L719.5 1122.5ZM741.6 1115.1L749.7 1129.5L733.5 1129.5ZM754.9 1085.9L763 1100.3L746.8 1100.3Z" fill="#006400"/>
<line x1="508" y1="803.6" x2="525.06" y2="834.16" stroke="#808080" stroke-width="4.5"/>
<line x1="530.52" y1="843.94" x2="535.88" y2="853.54" stroke="#808080" stroke-width="4.5"/>
<line x1="541.64" y1="863.85" x2="558.7" y2="894.41" stroke="#808080" stroke-width="4.5"/>
<line x1="564.16" y1="904.19" x2="569.52" y2="913.79" stroke="#808080" stroke-width="4.5"/>
<line x1="575.27" y1="924.09" x2="592.33" y2="954.65" stroke="#808080" stroke-width="4.5"/>
<line x1="597.79" y1="964.43" x2="603.16" y2="974.04" stroke="#808080" stroke-width="4.5"/>
<line x1="608.91" y1="984.34" x2="625.97" y2="1014.9" stroke="#808080" stroke-width="4.5"/>
<line x1="631.43" y1="1024.68" x2="636.79" y2="1034.28" stroke="#808080" stroke-width="4.5"/>
<line x1="642.54" y1="1044.59" x2="659.61" y2="1075.15" stroke="#808080" stroke-width="4.5"/>
<line x1="665.07" y1="1084.92" x2="670.3" y2="1094.3" stroke="#808080" stroke-width="4.5"/>
</g>
<rect x="468.8" y="748.2" width="298.8" height="372.6" fill="none" stroke="#1a1a1a" stroke-width="1.4"/>
<line x1="495.7" y1="1120.8" x2="495.7" y2="1126.3" stroke="#222" stroke-width="1.3"/>
<line x1="591.6" y1="1120.8" x2="591.6" y2="1123.8" stroke="#222" stroke-width="1.3"/>
<line x1="686.2" y1="1120.8" x2="686.2" y2="1126.3" stroke="#222" stroke-width="1.3"/>
<text transform="translate(495.7,1154.8) scale(1,1.04)" font-size="32" text-anchor="middle">-1.85</text>
<text transform="translate(686.2,1154.8) scale(1,1.04)" font-size="32" text-anchor="middle">-1.78</text>
<text transform="translate(575.9,783.7) scale(1,1.04)" font-size="31.5" fill="#006400">Vtg<tspan font-size="22" dy="9">1</tspan><tspan dy="-9">=2.5 V</tspan></text>
<text transform="translate(579.4,821.1) scale(1,1.04)" font-size="31.5" fill="#006400">59.6 mv/dec</text>
<clipPath id="clipC2"><rect x="787.8" y="747.5" width="304.6" height="373.1"/></clipPath>
<g clip-path="url(#clipC2)">
<path d="M801.8 760.3L809.9 774.7L793.7 774.7ZM815.4 767.3L823.5 781.7L807.3 781.7ZM829.4 784.9L837.5 799.3L821.3 799.3ZM842.9 801.2L851 815.6L834.8 815.6ZM856.7 811.7L864.8 826.1L848.6 826.1ZM870.7 821.8L878.8 836.2L862.6 836.2ZM884.3 847.5L892.4 861.9L876.2 861.9ZM898.3 864.3L906.4 878.7L890.2 878.7ZM911.8 893.5L919.9 907.9L903.7 907.9ZM925.6 927.3L933.7 941.7L917.5 941.7ZM939.2 956.5L947.3 970.9L931.1 970.9ZM953.2 984.6L961.3 999L945.1 999ZM966.7 1002.1L974.8 1016.5L958.6 1016.5ZM981.2 1034.8L989.3 1049.2L973.1 1049.2ZM995.2 1064.7L1003.3 1079.1L987.1 1079.1ZM1008.8 1095.5L1016.9 1109.9L1000.7 1109.9ZM1022.8 1108.4L1030.9 1122.8L1014.7 1122.8ZM1036.6 1091.3L1044.7 1105.7L1028.5 1105.7ZM1050.6 1108.4L1058.7 1122.8L1042.5 1122.8ZM1078.2 1107.2L1086.3 1121.6L1070.1 1121.6Z" fill="#0000ff"/>
<line x1="857.4" y1="802.6" x2="874.47" y2="833.16" stroke="#808080" stroke-width="4.5"/>
<line x1="879.93" y1="842.94" x2="885.29" y2="852.54" stroke="#808080" stroke-width="4.5"/>
<line x1="891.04" y1="862.84" x2="908.11" y2="893.4" stroke="#808080" stroke-width="4.5"/>
<line x1="913.57" y1="903.18" x2="918.93" y2="912.78" stroke="#808080" stroke-width="4.5"/>
<line x1="924.69" y1="923.08" x2="941.75" y2="953.64" stroke="#808080" stroke-width="4.5"/>
<line x1="947.21" y1="963.42" x2="952.58" y2="973.02" stroke="#808080" stroke-width="4.5"/>
<line x1="958.33" y1="983.33" x2="975.39" y2="1013.89" stroke="#808080" stroke-width="4.5"/>
<line x1="980.86" y1="1023.66" x2="986.22" y2="1033.27" stroke="#808080" stroke-width="4.5"/>
<line x1="991.97" y1="1043.57" x2="1009.04" y2="1074.13" stroke="#808080" stroke-width="4.5"/>
<line x1="1014.5" y1="1083.91" x2="1019.8" y2="1093.4" stroke="#808080" stroke-width="4.5"/>
</g>
<rect x="787.8" y="747.5" width="304.6" height="373.1" fill="none" stroke="#1a1a1a" stroke-width="1.4"/>
<line x1="815" y1="1120.6" x2="815" y2="1126.1" stroke="#222" stroke-width="1.3"/>
<line x1="912.2" y1="1120.6" x2="912.2" y2="1123.6" stroke="#222" stroke-width="1.3"/>
<line x1="1009.1" y1="1120.6" x2="1009.1" y2="1126.1" stroke="#222" stroke-width="1.3"/>
<text transform="translate(815,1154.6) scale(1,1.04)" font-size="32" text-anchor="middle">−1.61</text>
<text transform="translate(1009.1,1154.6) scale(1,1.04)" font-size="32" text-anchor="middle">−1.54</text>
<text transform="translate(886.8,783.9) scale(1,1.04)" font-size="31.5" fill="#0000ff">Vtg<tspan font-size="22" dy="9">1</tspan><tspan dy="-9">=2 V</tspan></text>
<text transform="translate(889.6,825.9) scale(1,1.04)" font-size="31.5" fill="#0000ff">64.7 mV/dec</text>
<clipPath id="clipC3"><rect x="1111.8" y="744.6" width="304.8" height="374"/></clipPath>
<g clip-path="url(#clipC3)">
<path d="M1125.4 755L1133.5 769.4L1117.3 769.4ZM1139.4 762L1147.5 776.4L1131.3 776.4ZM1152.9 772.5L1161 786.9L1144.8 786.9ZM1166.9 781.9L1175 796.3L1158.8 796.3ZM1180.7 795.4L1188.8 809.8L1172.6 809.8ZM1194.7 815.7L1202.8 830.1L1186.6 830.1ZM1208.3 846.1L1216.4 860.5L1200.2 860.5ZM1222.3 858.9L1230.4 873.3L1214.2 873.3ZM1236.3 875.3L1244.4 889.7L1228.2 889.7ZM1249.9 900.3L1258 914.7L1241.8 914.7ZM1263.6 924.3L1271.7 938.7L1255.5 938.7ZM1277.2 945.4L1285.3 959.8L1269.1 959.8ZM1291.2 971.1L1299.3 985.5L1283.1 985.5ZM1305.2 1000.3L1313.3 1014.7L1297.1 1014.7ZM1319.2 1030.6L1327.3 1045L1311.1 1045ZM1333.2 1054L1341.3 1068.4L1325.1 1068.4ZM1346.8 1070.3L1354.9 1084.7L1338.7 1084.7ZM1360.6 1083.7L1368.7 1098.1L1352.5 1098.1ZM1374.8 1087.9L1382.9 1102.3L1366.7 1102.3ZM1388.6 1105.4L1396.7 1119.8L1380.5 1119.8ZM1402.6 1093.7L1410.7 1108.1L1394.5 1108.1Z" fill="#6e00dc"/>
<line x1="1194.3" y1="790.2" x2="1211.35" y2="820.77" stroke="#808080" stroke-width="4.5"/>
<line x1="1216.8" y1="830.55" x2="1222.16" y2="840.16" stroke="#808080" stroke-width="4.5"/>
<line x1="1227.91" y1="850.46" x2="1244.95" y2="881.03" stroke="#808080" stroke-width="4.5"/>
<line x1="1250.41" y1="890.81" x2="1255.76" y2="900.42" stroke="#808080" stroke-width="4.5"/>
<line x1="1261.51" y1="910.73" x2="1278.56" y2="941.3" stroke="#808080" stroke-width="4.5"/>
<line x1="1284.01" y1="951.08" x2="1289.37" y2="960.68" stroke="#808080" stroke-width="4.5"/>
<line x1="1295.12" y1="970.99" x2="1312.16" y2="1001.56" stroke="#808080" stroke-width="4.5"/>
<line x1="1317.62" y1="1011.34" x2="1322.97" y2="1020.95" stroke="#808080" stroke-width="4.5"/>
<line x1="1328.72" y1="1031.25" x2="1345.77" y2="1061.82" stroke="#808080" stroke-width="4.5"/>
<line x1="1351.22" y1="1071.6" x2="1356.58" y2="1081.21" stroke="#808080" stroke-width="4.5"/>
</g>
<rect x="1111.8" y="744.6" width="304.8" height="374" fill="none" stroke="#1a1a1a" stroke-width="1.4"/>
<line x1="1152.4" y1="1118.6" x2="1152.4" y2="1124.1" stroke="#222" stroke-width="1.3"/>
<line x1="1249.9" y1="1118.6" x2="1249.9" y2="1121.6" stroke="#222" stroke-width="1.3"/>
<line x1="1347.2" y1="1118.6" x2="1347.2" y2="1124.1" stroke="#222" stroke-width="1.3"/>
<text transform="translate(1152.4,1152.6) scale(1,1.04)" font-size="32" text-anchor="middle">-1.36</text>
<text transform="translate(1347.2,1152.6) scale(1,1.04)" font-size="32" text-anchor="middle">-1.29</text>
<text transform="translate(1230.6,785.5) scale(1,1.04)" font-size="31.5" fill="#6e00dc">Vtg<tspan font-size="22" dy="9">1</tspan><tspan dy="-9">=1.5 V</tspan></text>
<text transform="translate(1231.8,824.1) scale(1,1.04)" font-size="31.5" fill="#6e00dc">70.9 mV/dec</text>
<clipPath id="clipC4"><rect x="1443.6" y="742.6" width="305.4" height="373.6"/></clipPath>
<g clip-path="url(#clipC4)">
<path d="M1457.5 749.7L1465.6 764.1L1449.4 764.1ZM1471.1 757.4L1479.2 771.8L1463 771.8ZM1485.1 767.2L1493.2 781.6L1477 781.6ZM1499.1 783.5L1507.2 797.9L1491 797.9ZM1513.1 795.2L1521.2 809.6L1505 809.6ZM1527.1 812.7L1535.2 827.1L1519 827.1ZM1540.9 819.7L1549 834.1L1532.8 834.1ZM1554.9 834.9L1563 849.3L1546.8 849.3ZM1568.5 854.8L1576.6 869.2L1560.4 869.2ZM1582.5 869.5L1590.6 883.9L1574.4 883.9ZM1596.5 889.8L1604.6 904.2L1588.4 904.2ZM1610.5 910.8L1618.6 925.2L1602.4 925.2ZM1624.5 936.5L1632.6 950.9L1616.4 950.9ZM1638.6 952.2L1646.7 966.6L1630.5 966.6ZM1652.1 970.9L1660.2 985.3L1644 985.3ZM1666.1 994.9L1674.2 1009.3L1658 1009.3ZM1680.1 1037.7L1688.2 1052.1L1672 1052.1ZM1694.1 1046.3L1702.2 1060.7L1686 1060.7ZM1708.2 1069.7L1716.3 1084.1L1700.1 1084.1ZM1721.9 1095.4L1730 1109.8L1713.8 1109.8ZM1736 1072L1744.1 1086.4L1727.9 1086.4Z" fill="#ff0000"/>
<line x1="1574.3" y1="817.6" x2="1591.64" y2="848" stroke="#808080" stroke-width="4.5"/>
<line x1="1597.19" y1="857.73" x2="1602.64" y2="867.29" stroke="#808080" stroke-width="4.5"/>
<line x1="1608.48" y1="877.54" x2="1625.82" y2="907.94" stroke="#808080" stroke-width="4.5"/>
<line x1="1631.37" y1="917.67" x2="1636.82" y2="927.23" stroke="#808080" stroke-width="4.5"/>
<line x1="1642.67" y1="937.48" x2="1660" y2="967.88" stroke="#808080" stroke-width="4.5"/>
<line x1="1665.55" y1="977.61" x2="1671" y2="987.16" stroke="#808080" stroke-width="4.5"/>
<line x1="1676.85" y1="997.41" x2="1694.19" y2="1027.82" stroke="#808080" stroke-width="4.5"/>
<line x1="1699.74" y1="1037.55" x2="1705.19" y2="1047.1" stroke="#808080" stroke-width="4.5"/>
<line x1="1711.03" y1="1057.35" x2="1719.1" y2="1071.5" stroke="#808080" stroke-width="4.5"/>
</g>
<rect x="1443.6" y="742.6" width="305.4" height="373.6" fill="none" stroke="#1a1a1a" stroke-width="1.4"/>
<line x1="1499.6" y1="1116.2" x2="1499.6" y2="1121.7" stroke="#222" stroke-width="1.3"/>
<line x1="1597" y1="1116.2" x2="1597" y2="1119.2" stroke="#222" stroke-width="1.3"/>
<line x1="1694.2" y1="1116.2" x2="1694.2" y2="1121.7" stroke="#222" stroke-width="1.3"/>
<text transform="translate(1499.6,1150.2) scale(1,1.04)" font-size="32" text-anchor="middle">−1.12</text>
<text transform="translate(1694.2,1150.2) scale(1,1.04)" font-size="32" text-anchor="middle">−1.05</text>
<text transform="translate(1564,775.5) scale(1,1.04)" font-size="31.5" fill="#ff0000">Vtg<tspan font-size="22" dy="9">1</tspan><tspan dy="-9">=1 V</tspan></text>
<text transform="translate(1567.5,807.1) scale(1,1.04)" font-size="31.5" fill="#ff0000">81.9 mV/dec</text>
<text transform="translate(-0.5,1291.7) scale(1,1.04)" font-size="39.5" font-weight="bold">d</text>
<line x1="221" y1="1562.35" x2="225.5" y2="1562.35" stroke="#000" stroke-width="1.5"/>
<line x1="221" y1="1530.09" x2="225.5" y2="1530.09" stroke="#000" stroke-width="1.5"/>
<line x1="221" y1="1507.2" x2="225.5" y2="1507.2" stroke="#000" stroke-width="1.5"/>
<line x1="221" y1="1489.45" x2="225.5" y2="1489.45" stroke="#000" stroke-width="1.5"/>
<line x1="221" y1="1474.94" x2="225.5" y2="1474.94" stroke="#000" stroke-width="1.5"/>
<line x1="221" y1="1462.68" x2="225.5" y2="1462.68" stroke="#000" stroke-width="1.5"/>
<line x1="221" y1="1452.05" x2="225.5" y2="1452.05" stroke="#000" stroke-width="1.5"/>
<line x1="221" y1="1442.68" x2="225.5" y2="1442.68" stroke="#000" stroke-width="1.5"/>
<line x1="216.5" y1="1434.3" x2="225.5" y2="1434.3" stroke="#000" stroke-width="1.5"/>
<line x1="221" y1="1379.15" x2="225.5" y2="1379.15" stroke="#000" stroke-width="1.5"/>
<line x1="221" y1="1346.89" x2="225.5" y2="1346.89" stroke="#000" stroke-width="1.5"/>
<line x1="221" y1="1324" x2="225.5" y2="1324" stroke="#000" stroke-width="1.5"/>
<line x1="221" y1="1306.25" x2="225.5" y2="1306.25" stroke="#000" stroke-width="1.5"/>
<line x1="221" y1="1291.74" x2="225.5" y2="1291.74" stroke="#000" stroke-width="1.5"/>
<line x1="221" y1="1279.48" x2="225.5" y2="1279.48" stroke="#000" stroke-width="1.5"/>
<line x1="221" y1="1268.85" x2="225.5" y2="1268.85" stroke="#000" stroke-width="1.5"/>
<line x1="221" y1="1259.48" x2="225.5" y2="1259.48" stroke="#000" stroke-width="1.5"/>
<line x1="216.5" y1="1251.1" x2="225.5" y2="1251.1" stroke="#000" stroke-width="1.5"/>
<text transform="translate(204,1261.2) scale(1,1.04)" font-size="33.5" text-anchor="end">1</text>
<text transform="translate(204,1443.6) scale(1,1.04)" font-size="33.5" text-anchor="end">0<tspan dx="-2">.</tspan><tspan dx="-3.5">1</tspan></text>
<line x1="225.5" y1="1562.3" x2="225.5" y2="1570.8" stroke="#000" stroke-width="1.5"/>
<text transform="translate(225.5,1603.8) scale(1,1.04)" font-size="33.5" text-anchor="middle">50</text>
<line x1="339.32" y1="1562.3" x2="339.32" y2="1566.8" stroke="#000" stroke-width="1.5"/>
<line x1="453.15" y1="1562.3" x2="453.15" y2="1570.8" stroke="#000" stroke-width="1.5"/>
<text transform="translate(453.15,1603.8) scale(1,1.04)" font-size="33.5" text-anchor="middle">55</text>
<line x1="566.98" y1="1562.3" x2="566.98" y2="1566.8" stroke="#000" stroke-width="1.5"/>
<line x1="680.8" y1="1562.3" x2="680.8" y2="1570.8" stroke="#000" stroke-width="1.5"/>
<text transform="translate(680.8,1603.8) scale(1,1.04)" font-size="33.5" text-anchor="middle">60</text>
<line x1="794.62" y1="1562.3" x2="794.62" y2="1566.8" stroke="#000" stroke-width="1.5"/>
<line x1="908.45" y1="1562.3" x2="908.45" y2="1570.8" stroke="#000" stroke-width="1.5"/>
<text transform="translate(908.45,1603.8) scale(1,1.04)" font-size="33.5" text-anchor="middle">65</text>
<line x1="1022.27" y1="1562.3" x2="1022.27" y2="1566.8" stroke="#000" stroke-width="1.5"/>
<line x1="1136.1" y1="1562.3" x2="1136.1" y2="1570.8" stroke="#000" stroke-width="1.5"/>
<text transform="translate(1136.1,1603.8) scale(1,1.04)" font-size="33.5" text-anchor="middle">70</text>
<line x1="1249.92" y1="1562.3" x2="1249.92" y2="1566.8" stroke="#000" stroke-width="1.5"/>
<line x1="1363.75" y1="1562.3" x2="1363.75" y2="1570.8" stroke="#000" stroke-width="1.5"/>
<text transform="translate(1363.75,1603.8) scale(1,1.04)" font-size="33.5" text-anchor="middle">75</text>
<line x1="1477.58" y1="1562.3" x2="1477.58" y2="1566.8" stroke="#000" stroke-width="1.5"/>
<line x1="1591.4" y1="1562.3" x2="1591.4" y2="1570.8" stroke="#000" stroke-width="1.5"/>
<text transform="translate(1591.4,1603.8) scale(1,1.04)" font-size="33.5" text-anchor="middle">80</text>
<line x1="1705.23" y1="1562.3" x2="1705.23" y2="1566.8" stroke="#000" stroke-width="1.5"/>
<text transform="translate(968.1,1641) scale(1,1.04)" font-size="33.5" text-anchor="middle">SS(mV/dec)</text>
<text transform="translate(150.8,1371.9) rotate(-90) scale(1,1.04)" font-size="33.4" text-anchor="middle">Threshold(nW)</text>
<rect x="292.4" y="1493.2" width="20.6" height="20.6" fill="#000"/>
<rect x="652.3" y="1397.3" width="20.6" height="20.6" fill="#005e3c"/>
<rect x="884.5" y="1342.3" width="20.6" height="20.6" fill="#0028ff"/>
<rect x="1167.1" y="1324.6" width="20.6" height="20.6" fill="#6e00dc"/>
<rect x="1668.2" y="1214.7" width="20.6" height="20.6" fill="#ff0000"/>
<line x1="303.65" y1="1497.65" x2="327.49" y2="1492.93" stroke="#000" stroke-width="4.6"/>
<line x1="348.87" y1="1488.69" x2="372.71" y2="1483.97" stroke="#000" stroke-width="4.6"/>
<line x1="394.09" y1="1479.73" x2="417.93" y2="1475.01" stroke="#000" stroke-width="4.6"/>
<line x1="439.31" y1="1470.78" x2="463.15" y2="1466.05" stroke="#000" stroke-width="4.6"/>
<line x1="484.53" y1="1461.82" x2="508.37" y2="1457.1" stroke="#000" stroke-width="4.6"/>
<line x1="529.76" y1="1452.86" x2="553.59" y2="1448.14" stroke="#000" stroke-width="4.6"/>
<line x1="574.98" y1="1443.9" x2="598.81" y2="1439.18" stroke="#000" stroke-width="4.6"/>
<line x1="620.2" y1="1434.94" x2="644.04" y2="1430.22" stroke="#000" stroke-width="4.6"/>
<line x1="665.42" y1="1425.98" x2="689.26" y2="1421.26" stroke="#000" stroke-width="4.6"/>
<line x1="710.64" y1="1417.03" x2="734.48" y2="1412.3" stroke="#000" stroke-width="4.6"/>
<line x1="755.86" y1="1408.07" x2="779.7" y2="1403.35" stroke="#000" stroke-width="4.6"/>
<line x1="801.08" y1="1399.11" x2="824.92" y2="1394.39" stroke="#000" stroke-width="4.6"/>
<line x1="846.3" y1="1390.15" x2="870.14" y2="1385.43" stroke="#000" stroke-width="4.6"/>
<line x1="891.53" y1="1381.19" x2="915.36" y2="1376.47" stroke="#000" stroke-width="4.6"/>
<line x1="936.75" y1="1372.23" x2="960.58" y2="1367.51" stroke="#000" stroke-width="4.6"/>
<line x1="981.97" y1="1363.28" x2="1005.81" y2="1358.55" stroke="#000" stroke-width="4.6"/>
<line x1="1027.19" y1="1354.32" x2="1051.03" y2="1349.6" stroke="#000" stroke-width="4.6"/>
<line x1="1072.41" y1="1345.36" x2="1096.25" y2="1340.64" stroke="#000" stroke-width="4.6"/>
<line x1="1117.63" y1="1336.4" x2="1141.47" y2="1331.68" stroke="#000" stroke-width="4.6"/>
<line x1="1162.85" y1="1327.44" x2="1186.69" y2="1322.72" stroke="#000" stroke-width="4.6"/>
<line x1="1208.07" y1="1318.48" x2="1231.91" y2="1313.76" stroke="#000" stroke-width="4.6"/>
<line x1="1253.3" y1="1309.53" x2="1277.13" y2="1304.8" stroke="#000" stroke-width="4.6"/>
<line x1="1298.52" y1="1300.57" x2="1322.35" y2="1295.85" stroke="#000" stroke-width="4.6"/>
<line x1="1343.74" y1="1291.61" x2="1367.57" y2="1286.89" stroke="#000" stroke-width="4.6"/>
<line x1="1388.96" y1="1282.65" x2="1412.8" y2="1277.93" stroke="#000" stroke-width="4.6"/>
<line x1="1434.18" y1="1273.69" x2="1458.02" y2="1268.97" stroke="#000" stroke-width="4.6"/>
<line x1="1479.4" y1="1264.73" x2="1503.24" y2="1260.01" stroke="#000" stroke-width="4.6"/>
<line x1="1524.62" y1="1255.78" x2="1548.46" y2="1251.05" stroke="#000" stroke-width="4.6"/>
<line x1="1569.84" y1="1246.82" x2="1593.68" y2="1242.1" stroke="#000" stroke-width="4.6"/>
<line x1="1615.07" y1="1237.86" x2="1638.9" y2="1233.14" stroke="#000" stroke-width="4.6"/>
<line x1="1660.29" y1="1228.9" x2="1684.12" y2="1224.18" stroke="#000" stroke-width="4.6"/>
<rect x="225.5" y="1204.1" width="1503" height="358.2" fill="none" stroke="#000" stroke-width="1.7"/>
</svg>
</body></html>
